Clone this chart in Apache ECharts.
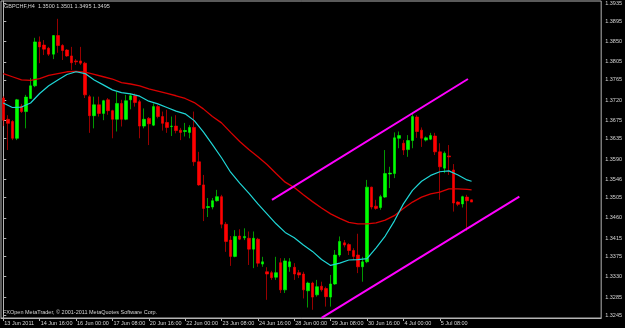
<!DOCTYPE html>
<html>
<head>
<meta charset="utf-8">
<script src="https://cdn.jsdelivr.net/npm/echarts@6/dist/echarts.min.js"></script>
<style>
  html, body { margin: 0; padding: 0; background: #000; }
  #chart { width: 625px; height: 328px; }
</style>
</head>
<body>
<div id="chart"></div>
<script>
// ---- Data (GBPCHF, H4) ----
const chartTitle = "GBPCHF,H4  1.3500 1.3501 1.3495 1.3495";
const copyrightText = "FXOpen MetaTrader, \u00a9 2001-2011 MetaQuotes Software Corp.";

const barTimes = [
  "13 Jun 08:00","13 Jun 12:00","13 Jun 16:00","13 Jun 20:00",
  "14 Jun 00:00","14 Jun 04:00","14 Jun 08:00","14 Jun 12:00","14 Jun 16:00","14 Jun 20:00",
  "15 Jun 00:00","15 Jun 04:00","15 Jun 08:00","15 Jun 12:00","15 Jun 16:00","15 Jun 20:00",
  "16 Jun 00:00","16 Jun 04:00","16 Jun 08:00","16 Jun 12:00","16 Jun 16:00","16 Jun 20:00",
  "17 Jun 00:00","17 Jun 04:00","17 Jun 08:00","17 Jun 12:00","17 Jun 16:00","17 Jun 20:00",
  "20 Jun 00:00","20 Jun 04:00","20 Jun 08:00","20 Jun 12:00","20 Jun 16:00","20 Jun 20:00",
  "21 Jun 00:00","21 Jun 04:00","21 Jun 08:00","21 Jun 12:00","21 Jun 16:00","21 Jun 20:00",
  "22 Jun 00:00","22 Jun 04:00","22 Jun 08:00","22 Jun 12:00","22 Jun 16:00","22 Jun 20:00",
  "23 Jun 00:00","23 Jun 04:00","23 Jun 08:00","23 Jun 12:00","23 Jun 16:00","23 Jun 20:00",
  "24 Jun 00:00","24 Jun 04:00","24 Jun 08:00","24 Jun 12:00","24 Jun 16:00","24 Jun 20:00",
  "27 Jun 00:00","27 Jun 04:00","27 Jun 08:00","27 Jun 12:00","27 Jun 16:00","27 Jun 20:00",
  "28 Jun 00:00","28 Jun 04:00","28 Jun 08:00","28 Jun 12:00","28 Jun 16:00","28 Jun 20:00",
  "29 Jun 00:00","29 Jun 04:00","29 Jun 08:00","29 Jun 12:00","29 Jun 16:00","29 Jun 20:00",
  "30 Jun 00:00","30 Jun 04:00","30 Jun 08:00","30 Jun 12:00","30 Jun 16:00","30 Jun 20:00",
  "1 Jul 00:00","1 Jul 04:00","1 Jul 08:00","1 Jul 12:00","1 Jul 16:00","1 Jul 20:00",
  "4 Jul 00:00","4 Jul 04:00","4 Jul 08:00","4 Jul 12:00","4 Jul 16:00","4 Jul 20:00",
  "5 Jul 00:00","5 Jul 04:00","5 Jul 08:00","5 Jul 12:00","5 Jul 16:00","5 Jul 20:00",
  "6 Jul 00:00","6 Jul 04:00","6 Jul 08:00","6 Jul 12:00"
];
const futureSlots = 28; // empty chart-shift space on the right

const dateTickLabels = ["13 Jun 2011","14 Jun 16:00","16 Jun 00:00","17 Jun 08:00","20 Jun 16:00",
  "22 Jun 00:00","23 Jun 08:00","24 Jun 16:00","28 Jun 00:00","29 Jun 08:00","30 Jun 16:00",
  "4 Jul 00:00","5 Jul 08:00"];
const dateTickEvery = 8;

const priceTickLabels = ["1.3935","1.3895","1.3850","1.3805","1.3765","1.3720","1.3675","1.3635",
  "1.3590","1.3546","1.3505","1.3460","1.3415","1.3375","1.3330","1.3285","1.3245"];

const opens = [1.3725,1.3678,1.3673,1.3636,1.3707,1.3695,1.3724,1.3752,1.3849,1.3842,
  1.3835,1.3822,1.3863,1.3841,1.3831,1.3818,1.3807,1.3807,1.3802,1.3728,
  1.3686,1.3710,1.3691,1.3721,1.3697,1.3678,1.3713,1.3678,1.3721,1.3730,
  1.3717,1.3663,1.3680,1.3665,1.3706,1.3684,1.3671,1.3662,1.3663,1.3654,
  1.3651,1.3649,1.3660,1.3584,1.3533,1.3483,1.3484,1.3498,1.3507,1.3446,
  1.3411,1.3375,1.3420,1.3416,1.3415,1.3391,1.3413,1.3358,1.3341,1.3339,
  1.3329,1.3361,1.3301,1.3352,1.3351,1.3339,1.3336,1.3299,1.3316,1.3290,
  1.3309,1.3304,1.3285,1.3314,1.3378,1.3405,1.3401,1.3388,1.3378,1.3352,
  1.3363,1.3528,1.3486,1.3483,1.3506,1.3557,1.3558,1.3636,1.3625,1.3611,
  1.3631,1.3683,1.3654,1.3632,1.3634,1.3641,1.3606,1.3570,1.3597,1.3566,
  1.3495,1.3491,1.3506,1.3500];
const highs = [1.3729,1.3687,1.3676,1.3723,1.3712,1.3732,1.3769,1.3858,1.3861,1.3853,
  1.3838,1.3864,1.3900,1.3844,1.3833,1.3838,1.3811,1.3838,1.3805,1.3732,
  1.3728,1.3728,1.3721,1.3725,1.3699,1.3739,1.3721,1.3732,1.3735,1.3735,
  1.3721,1.3702,1.3683,1.3713,1.3710,1.3695,1.3699,1.3684,1.3687,1.3659,
  1.3670,1.3665,1.3695,1.3606,1.3555,1.3504,1.3504,1.3522,1.3511,1.3451,
  1.3420,1.3433,1.3435,1.3437,1.3430,1.3430,1.3416,1.3374,1.3351,1.3343,
  1.3374,1.3371,1.3371,1.3371,1.3360,1.3345,1.3341,1.3319,1.3319,1.3323,
  1.3319,1.3308,1.3334,1.3389,1.3419,1.3411,1.3404,1.3393,1.3425,1.3374,
  1.3544,1.3529,1.3500,1.3511,1.3610,1.3573,1.3649,1.3651,1.3632,1.3643,
  1.3691,1.3687,1.3660,1.3640,1.3648,1.3648,1.3625,1.3607,1.3621,1.3579,
  1.3497,1.3509,1.3511,1.3501];
const lows = [1.3663,1.3610,1.3632,1.3632,1.3692,1.3658,1.3723,1.3749,1.3802,1.3820,
  1.3818,1.3811,1.3825,1.3809,1.3816,1.3787,1.3798,1.3798,1.3725,1.3648,
  1.3658,1.3684,1.3676,1.3688,1.3636,1.3651,1.3662,1.3676,1.3700,1.3706,
  1.3636,1.3658,1.3621,1.3663,1.3680,1.3653,1.3648,1.3641,1.3647,1.3632,
  1.3640,1.3636,1.3575,1.3531,1.3453,1.3462,1.3479,1.3496,1.3437,1.3385,
  1.3354,1.3373,1.3411,1.3411,1.3356,1.3349,1.3352,1.3352,1.3279,1.3323,
  1.3323,1.3294,1.3294,1.3341,1.3323,1.3327,1.3282,1.3262,1.3257,1.3286,
  1.3297,1.3264,1.3264,1.3312,1.3374,1.3395,1.3378,1.3367,1.3338,1.3319,
  1.3360,1.3479,1.3478,1.3478,1.3504,1.3526,1.3548,1.3614,1.3599,1.3595,
  1.3614,1.3637,1.3617,1.3629,1.3632,1.3599,1.3500,1.3559,1.3555,1.3474,
  1.3486,1.3483,1.3431,1.3495];
const closes = [1.3676,1.3669,1.3636,1.3721,1.3695,1.3727,1.3752,1.3849,1.3838,1.3833,
  1.3822,1.3863,1.3841,1.3830,1.3818,1.3803,1.3805,1.3802,1.3732,1.3686,
  1.3710,1.3691,1.3719,1.3697,1.3678,1.3713,1.3678,1.3719,1.3730,1.3715,
  1.3663,1.3678,1.3668,1.3706,1.3684,1.3669,1.3660,1.3663,1.3653,1.3649,
  1.3653,1.3660,1.3584,1.3533,1.3481,1.3485,1.3498,1.3507,1.3446,1.3408,
  1.3375,1.3419,1.3413,1.3419,1.3391,1.3415,1.3360,1.3363,1.3336,1.3328,
  1.3339,1.3301,1.3365,1.3363,1.3336,1.3334,1.3301,1.3316,1.3285,1.3308,
  1.3301,1.3286,1.3314,1.3378,1.3408,1.3400,1.3388,1.3375,1.3352,1.3363,
  1.3528,1.3484,1.3481,1.3507,1.3558,1.3559,1.3637,1.3642,1.3610,1.3631,
  1.3684,1.3651,1.3636,1.3637,1.3642,1.3606,1.3573,1.3603,1.3595,1.3493,
  1.3490,1.3507,1.3498,1.3495];

// Moving averages at these bars
const maBars = [0,2,4,6,8,10,12,14,16,18,20,22,24,26,28,30,32,34,36,38,40,42,44,46,48,50,
  52,54,56,58,60,62,64,66,68,70,72,74,76,78,80,82,84,86,88,90,92,94,96,98,100,102,103];
const fastMA = [1.3714,1.3704,1.3705,1.3714,1.3735,1.3752,1.3765,1.3777,1.3783,1.3779,1.3765,
  1.3754,1.3743,1.3737,1.3734,1.3729,1.3718,1.3712,1.3704,1.3696,1.3690,1.3675,1.3650,1.3622,
  1.3593,1.3561,1.3537,1.3515,1.3491,1.3469,1.3447,1.3428,1.3416,1.3400,1.3386,1.3368,1.3355,
  1.3360,1.3367,1.3368,1.3370,1.3394,1.3420,1.3453,1.3491,1.3521,1.3541,1.3554,1.3562,1.3564,
  1.3555,1.3544,1.3541];
const slowMA = [1.3779,1.3772,1.3765,1.3764,1.3768,1.3775,1.3779,1.3783,1.3784,1.3782,1.3777,
  1.3772,1.3767,1.3759,1.3756,1.3752,1.3745,1.3740,1.3735,1.3730,1.3724,1.3715,1.3701,1.3684,
  1.3670,1.3649,1.3629,1.3611,1.3595,1.3578,1.3558,1.3539,1.3527,1.3511,1.3496,1.3482,1.3469,
  1.3459,1.3450,1.3447,1.3447,1.3449,1.3455,1.3465,1.3481,1.3495,1.3506,1.3513,1.3517,1.3524,
  1.3524,1.3523,1.3522];

// Channel trend lines: [bar position, price]
const upperTrend = [[59.1, 1.3500], [102.2, 1.3767]];
const lowerTrend = [[70.0, 1.3239], [113.5, 1.3507]];

const lastPrice = 1.3495;
const yMin = 1.32388, yMax = 1.39394;

// ---- Build ----
const categories = barTimes.concat(new Array(futureSlots).fill(''));
const candleData = opens.map((o, i) => [o, closes[i], lows[i], highs[i]]);
const pairs = (xs, ys) => xs.map((x, i) => [x, ys[i]]);
const isDateTick = (index) => index % dateTickEvery === 0 && index / dateTickEvery < dateTickLabels.length;

const FONT = 'Liberation Sans';
const TXT = '#d4d4d4';
const FRAME = '#b4b4b4';

const chart = echarts.init(document.getElementById('chart'), null, { renderer: 'canvas' });
chart.setOption({
  backgroundColor: '#000000',
  animation: false,
  title: [
    { text: chartTitle, left: 4, top: 3, padding: 0,
      textStyle: { color: TXT, fontSize: 5.5, fontWeight: 'normal', fontFamily: FONT } },
    { text: copyrightText, left: 3, top: 309, padding: 0,
      textStyle: { color: TXT, fontSize: 5.5, fontWeight: 'normal', fontFamily: FONT } }
  ],
  grid: { left: 1, right: 21, top: 1, bottom: 10, show: true, borderColor: FRAME, borderWidth: 1,
          containLabel: false },
  xAxis: [
    { type: 'category', data: categories, boundaryGap: true,
      axisLine: { show: true, lineStyle: { color: FRAME, width: 1 } },
      axisTick: { show: true, alignWithLabel: true, interval: isDateTick, length: 3,
                  lineStyle: { color: FRAME } },
      axisLabel: { show: true, interval: isDateTick, hideOverlap: false,
                   formatter: (v, idx) => isDateTick(idx) ? dateTickLabels[idx / dateTickEvery] : '',
                   color: TXT, fontSize: 5.5, fontFamily: FONT, align: 'left', margin: 2,
                   padding: [0, 0, 0, 1] },
      splitLine: { show: false } },
    { type: 'value', min: -0.5, max: categories.length - 0.5, show: false }
  ],
  yAxis: {
    type: 'value', position: 'right', min: yMin, max: yMax,
    axisLine: { show: true, lineStyle: { color: FRAME, width: 1 } },
    axisTick: { show: true, length: 3, lineStyle: { color: FRAME },
                customValues: priceTickLabels.map(Number) },
    axisLabel: { show: true, color: TXT, fontSize: 5.5, fontFamily: FONT, margin: 4,
                 customValues: priceTickLabels.map(Number),
                 formatter: (v) => v.toFixed(4) },
    splitLine: { show: false }
  },
  series: [
    { name: 'GBPCHF', type: 'candlestick', xAxisIndex: 0, yAxisIndex: 0,
      data: candleData, barWidth: 3,
      itemStyle: { color: '#00ff00', color0: '#ff0000',
                   borderColor: '#00ff00', borderColor0: '#ff0000', borderWidth: 0.6 },
      emphasis: { disabled: true },
      markLine: { silent: true, symbol: 'none', animation: false,
        lineStyle: { opacity: 0 },
        label: { show: true, position: 'end', distance: 1, formatter: lastPrice.toFixed(4),
                 backgroundColor: '#ffffff', color: '#000000', fontSize: 5.5, fontFamily: FONT,
                 padding: [1, 2, 0, 2] },
        data: [{ yAxis: lastPrice }] } },
    { name: 'Slow MA', type: 'line', xAxisIndex: 1, yAxisIndex: 0, data: pairs(maBars, slowMA),
      showSymbol: false, symbol: 'none', lineStyle: { color: '#d80000', width: 1.3 }, silent: true },
    { name: 'Fast MA', type: 'line', xAxisIndex: 1, yAxisIndex: 0, data: pairs(maBars, fastMA),
      showSymbol: false, symbol: 'none', lineStyle: { color: '#1fd6d6', width: 1.2 }, silent: true },
    { name: 'Upper channel', type: 'line', xAxisIndex: 1, yAxisIndex: 0, data: upperTrend,
      showSymbol: false, symbol: 'none', lineStyle: { color: '#ff00ff', width: 2 }, silent: true },
    { name: 'Lower channel', type: 'line', xAxisIndex: 1, yAxisIndex: 0, data: lowerTrend,
      showSymbol: false, symbol: 'none', lineStyle: { color: '#ff00ff', width: 2 }, silent: true }
  ]
});
</script>
</body>
</html>
